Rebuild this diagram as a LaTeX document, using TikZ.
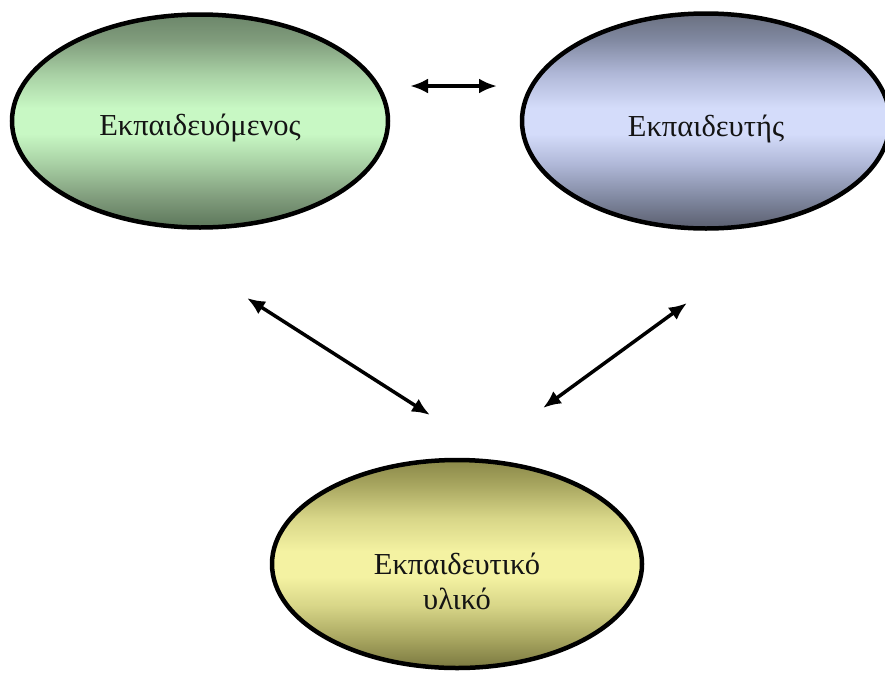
\documentclass[tikz,border=0pt]{standalone}
\usepackage{fontspec}
\setmainfont{Liberation Serif}
\usetikzlibrary{shapes.geometric,arrows.meta}
\definecolor{gA}{HTML}{5C765A}
\definecolor{gB}{HTML}{809C7C}
\definecolor{gC}{HTML}{A8D0A4}
\definecolor{gD}{HTML}{C8F8C4}
\definecolor{gE}{HTML}{6C866A}
\definecolor{bA}{HTML}{5A5E6E}
\definecolor{bB}{HTML}{8088A0}
\definecolor{bC}{HTML}{B0B8D8}
\definecolor{bD}{HTML}{D4DCFA}
\definecolor{bE}{HTML}{6A7080}
\definecolor{yA}{HTML}{7A7840}
\definecolor{yB}{HTML}{A8A660}
\definecolor{yC}{HTML}{D8D688}
\definecolor{yD}{HTML}{F4F2A2}
\definecolor{yE}{HTML}{8A8848}
\definecolor{txt}{HTML}{141414}
\pgfdeclareverticalshading{greensh}{100bp}{color(0bp)=(gA); color(25bp)=(gA); color(32bp)=(gB); color(40bp)=(gC); color(47bp)=(gD); color(53bp)=(gD); color(61bp)=(gC); color(69bp)=(gB); color(75bp)=(gE); color(100bp)=(gE)}
\pgfdeclareverticalshading{bluesh}{100bp}{color(0bp)=(bA); color(25bp)=(bA); color(32bp)=(bB); color(40bp)=(bC); color(47bp)=(bD); color(53bp)=(bD); color(61bp)=(bC); color(69bp)=(bB); color(75bp)=(bE); color(100bp)=(bE)}
\pgfdeclareverticalshading{yellowsh}{100bp}{color(0bp)=(yA); color(25bp)=(yA); color(32bp)=(yB); color(40bp)=(yC); color(47bp)=(yD); color(53bp)=(yD); color(61bp)=(yC); color(69bp)=(yB); color(75bp)=(yE); color(100bp)=(yE)}
\tikzset{
  oval/.style={ellipse, draw=black, line width=4.5pt, inner sep=0pt,
    text=txt, align=center, font=\fontsize{30.5}{35}\selectfont},
  link/.style={line width=3.5pt, {Latex[length=18pt,width=15pt]}-{Latex[length=18pt,width=15pt]}}
}
\begin{document}
\begin{tikzpicture}[x=1pt,y=-1pt]
\useasboundingbox (0,0) rectangle (885,672);
\node[oval, shading=greensh, minimum width=376pt, minimum height=213pt] (learner) at (200,121) {\raisebox{-7pt}[\height][\depth]{Εκπαιδευόμενος}};
\node[oval, shading=bluesh, minimum width=368pt, minimum height=215pt] (trainer) at (706,121) {\raisebox{-8pt}[\height][\depth]{Εκπαιδευτής}};
\node[oval, shading=yellowsh, minimum width=370pt, minimum height=208pt] (material) at (457,564) {\raisebox{-21pt}[\height][\depth]{\begin{tabular}{@{}c@{}}Εκπαιδευτικό\\υλικό\end{tabular}}};
\coordinate (t1) at (410,86);
\coordinate (t2) at (497,86);
\coordinate (l1) at (247,298);
\coordinate (l2) at (430,415);
\coordinate (r1) at (687,303);
\coordinate (r2) at (543,408);
\draw[link] (t1) -- (t2);
\draw[link] (l1) -- (l2);
\draw[link] (r1) -- (r2);
\end{tikzpicture}
\end{document}
